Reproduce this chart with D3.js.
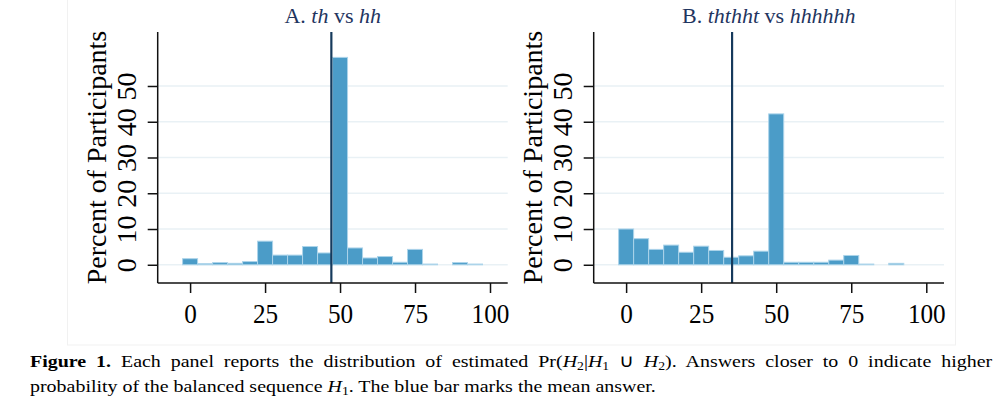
<!DOCTYPE html>
<html>
<head>
<meta charset="utf-8">
<script src="https://cdn.jsdelivr.net/npm/d3@7"></script>
<style>
  body { margin: 0; background: #fff; }
  #wrap { position: relative; width: 1002px; height: 404px; overflow: hidden; }
  .cap {
    position: absolute; left: 30px; width: 844px; white-space: nowrap;
    transform: scaleX(1.14); transform-origin: 0 0;
    font-family: "Liberation Serif", "Times New Roman", serif;
    font-size: 17.5px; line-height: 25px; color: #000;
  }
  #cap1 { top: 349px; text-align: justify; text-align-last: justify; white-space: normal; }
  #cap2 { top: 374px; text-align: left; }
  .cap sub { font-size: 12px; vertical-align: -3px; line-height: 0; }
</style>
</head>
<body>
<div id="wrap">
  <svg id="fig" width="1002" height="404"></svg>
  <div class="cap" id="cap1"><b>Figure 1.</b> Each panel reports the distribution of estimated Pr(<i>H</i><sub>2</sub>|<i>H</i><sub>1</sub>&nbsp;∪&nbsp;<i>H</i><sub>2</sub>). Answers closer to 0 indicate higher</div>
  <div class="cap" id="cap2">probability of the balanced sequence <i>H</i><sub>1</sub>. The blue bar marks the mean answer.</div>
</div>
<script>

// bins are 5 points wide, centred on multiples of 5
var binCenters = [0, 5, 10, 15, 20, 25, 30, 35, 40, 45, 50, 55, 60, 65, 70, 75, 80, 85, 90, 95, 100];

// percent of participants per bin
var pctA = [1.7, 0.3, 0.6, 0.4, 0.9, 6.6, 2.7, 2.7, 5.1, 3.3, 58.0, 4.7, 1.9, 2.3, 0.7, 4.3, 0.2, 0, 0.6, 0.2, 0];
var pctB = [10.0, 7.3, 4.3, 5.5, 3.5, 5.2, 4.0, 2.1, 2.5, 3.8, 42.2, 0.7, 0.7, 0.7, 1.3, 2.6, 0.2, 0, 0.4, 0, 0];

var meanA = 47.1;
var meanB = 35.3;

var xTicks = [0, 25, 50, 75, 100];
var yTicks = [0, 10, 20, 30, 40, 50];

var svg = d3.select("#fig");

// faint frame round the graph area
svg.append("rect")
    .attr("x", 67.5).attr("y", -2)
    .attr("width", 888).attr("height", 347)
    .attr("fill", "none")
    .attr("stroke", "#f1f1f1");

var plotTop = 32, plotBottom = 283;

var y = d3.scaleLinear().domain([-5.1, 65.1]).range([plotBottom, plotTop]);

var drawPanel = function(left, right, values, mean, title){

    var x = d3.scaleLinear().domain([-10.8, 105.9]).range([left, right]);
    var g = svg.append("g");

    // gridlines
    g.selectAll("line.grid")
        .data(yTicks)
        .enter().append("line")
        .attr("class", "grid")
        .attr("x1", left).attr("x2", right)
        .attr("y1", function(d){ return y(d); })
        .attr("y2", function(d){ return y(d); })
        .attr("stroke", "#e9f1f5")
        .attr("stroke-width", 1.5);

    // bars
    var bins = binCenters.map(function(c, i){ return {c: c, v: values[i]}; })
                         .filter(function(d){ return d.v > 0; });
    g.selectAll("rect.bar")
        .data(bins)
        .enter().append("rect")
        .attr("class", "bar")
        .attr("x", function(d){ return x(d.c - 2.5); })
        .attr("width", function(d){ return x(d.c + 2.5) - x(d.c - 2.5); })
        .attr("y", function(d){ return y(d.v); })
        .attr("height", function(d){ return y(0) - y(d.v); })
        .attr("fill", "#4b9cc8")
        .attr("stroke", "#acd4ea")
        .attr("stroke-width", 1);

    // mean answer
    g.append("line")
        .attr("x1", x(mean)).attr("x2", x(mean))
        .attr("y1", plotTop).attr("y2", plotBottom)
        .attr("stroke", "#163a5c")
        .attr("stroke-width", 2.2);

    // x axis
    var xAxis = d3.axisBottom(x).tickValues(xTicks).tickSize(10).tickPadding(10)
        .tickFormat(d3.format("d"));
    var gx = g.append("g")
        .attr("transform", "translate(0," + plotBottom + ")")
        .call(xAxis);
    gx.select(".domain").attr("d", "M" + left + ",0H" + right).attr("stroke", "#111").attr("stroke-width", 1.5);
    gx.selectAll(".tick line").attr("stroke", "#111").attr("stroke-width", 1.5);
    gx.selectAll(".tick text")
        .attr("font-family", "Liberation Serif, serif")
        .attr("font-size", 28)
        .attr("fill", "#000")
        .attr("dy", "0.72em")
        .attr("transform", "scale(0.9,1)");

    // y axis
    var yAxis = d3.axisLeft(y).tickValues(yTicks).tickSize(10).tickFormat(d3.format("d"));
    var gy = g.append("g")
        .attr("transform", "translate(" + left + ",0)")
        .call(yAxis);
    gy.select(".domain").attr("d", "M0," + plotTop + "V" + plotBottom).attr("stroke", "#111").attr("stroke-width", 1.5);
    gy.selectAll(".tick line").attr("stroke", "#111").attr("stroke-width", 1.5);
    gy.selectAll(".tick text")
        .attr("font-family", "Liberation Serif, serif")
        .attr("font-size", 28)
        .attr("fill", "#000")
        .attr("x", null).attr("dy", null)
        .attr("text-anchor", "middle")
        .attr("transform", "translate(-22,0) rotate(-90)");

    // axis title
    g.append("text")
        .attr("transform", "translate(" + (left - 52) + "," + ((plotTop + plotBottom) / 2) + ") rotate(-90)")
        .attr("text-anchor", "middle")
        .attr("font-family", "Liberation Serif, serif")
        .attr("font-size", 28)
        .text("Percent of Participants");

    // panel title
    var t = g.append("text")
        .attr("transform", "translate(" + ((left + right) / 2) + ",22.7) scale(1.1,1)")
        .attr("text-anchor", "middle")
        .attr("font-family", "Liberation Serif, serif")
        .attr("font-size", 20)
        .attr("fill", "#1f3560");
    title.forEach(function(p){
        t.append("tspan").attr("font-style", p[1] ? "italic" : "normal").text(p[0]);
    });
};

drawPanel(157.7, 507.7, pctA, meanA, [["A. ", 0], ["th", 1], [" vs ", 0], ["hh", 1]]);
drawPanel(593.7, 944, pctB, meanB, [["B. ", 0], ["ththht", 1], [" vs ", 0], ["hhhhhh", 1]]);

</script>
</body>
</html>
